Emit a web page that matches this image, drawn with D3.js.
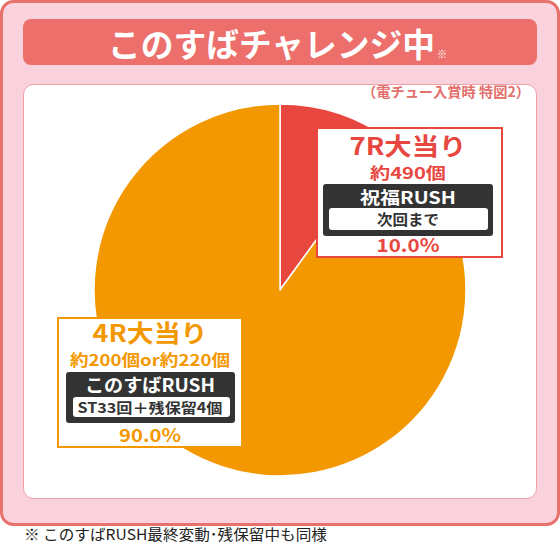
<!DOCTYPE html>
<html><head><meta charset="utf-8">
<script src="https://cdn.jsdelivr.net/npm/d3@7"></script>
<style>html,body{margin:0;padding:0;background:#fff;}svg{display:block;}text{font-family:"Noto Sans CJK JP","Noto Sans",sans-serif;}</style>
</head><body>
<script>
const categories = ["7R大当り", "4R大当り"];
const values = [10.0, 90.0];
const valueLabels = ["10.0%", "90.0%"];
const payouts = ["約490個", "約200個or約220個"];
const rushNames = ["祝福RUSH", "このすばRUSH"];
const rushDetails = ["次回まで", "ST33回＋残保留4個"];
const colors = ["#e8473f", "#f39800"];
const title = "このすばチャレンジ中";
const subtitle = "（電チュー入賞時 特図2）";
const footnote = "※ このすばRUSH最終変動･残保留中も同様";

const W = 560, H = 543;
const svg = d3.select("body").append("svg").attr("width", W).attr("height", H);

function fit(sel, len) {
  return sel.attr("textLength", len).attr("lengthAdjust", "spacingAndGlyphs");
}

// outer frame
svg.append("rect").attr("x", 1.5).attr("y", 1.5).attr("width", W - 3).attr("height", 523)
  .attr("rx", 12).attr("fill", "#f9d2de").attr("stroke", "#e9716c").attr("stroke-width", 3);
// title band
svg.append("rect").attr("x", 23).attr("y", 19).attr("width", 514).attr("height", 46)
  .attr("rx", 8).attr("fill", "#ec6f6b");
fit(svg.append("text").attr("x", 271.5).attr("y", 57).attr("text-anchor", "middle")
  .attr("fill", "#fff").attr("font-size", 33).attr("font-weight", 700).text(title), 327);
svg.append("text").attr("x", 437).attr("y", 58).attr("fill", "#fff").attr("font-size", 10).text("※");

// inner white panel
svg.append("rect").attr("x", 23.5).attr("y", 84.5).attr("width", 513).attr("height", 414)
  .attr("rx", 10).attr("fill", "#fff").attr("stroke", "#f0a0a4").attr("stroke-width", 1);
fit(svg.append("text").attr("x", 530).attr("y", 97).attr("text-anchor", "end")
  .attr("fill", "#e2706c").attr("font-size", 14).attr("font-weight", 700).text(subtitle), 168);

// pie
const cx = 280, cy = 290, r = 186;
const pie = d3.pie().sort(null).value(d => d)(values);
const arc = d3.arc().innerRadius(0).outerRadius(r);
svg.append("g").attr("transform", `translate(${cx},${cy})`)
  .selectAll("path").data(pie).join("path")
  .attr("d", arc).attr("fill", (d, i) => colors[i])
  .attr("stroke", "#fff").attr("stroke-width", 1.5).attr("stroke-linejoin", "round");

// label boxes
const boxes = [
  {x: 317, y: 128, w: 185, h: 129, cx: 408, t1: 155, t2: 179, dy: 184, dh: 52, dx: 323, dw: 170, t3: 204, wy: 208, wh: 22, wx: 329, ww: 159, t4: 225, t5: 252,
   f1: 24, f2: 16, f3: 17, f4: 15, l1: 117, l2: 76, l3: 96, l4: 62, l5: 63},
  {x: 58, y: 318, w: 184, h: 129, cx: 150, t1: 342, t2: 366, dy: 372, dh: 51, dx: 66, dw: 169, t3: 392, wy: 397, wh: 20, wx: 73, ww: 157, t4: 413, t5: 442,
   f1: 24, f2: 16, f3: 18, f4: 14, l1: 115, l2: 160, l3: 130, l4: 145, l5: 62}
];
boxes.forEach((b, i) => {
  const g = svg.append("g");
  g.append("rect").attr("x", b.x).attr("y", b.y).attr("width", b.w).attr("height", b.h)
    .attr("fill", "#fff").attr("stroke", colors[i]).attr("stroke-width", 2);
  fit(g.append("text").attr("x", b.cx).attr("y", b.t1).attr("text-anchor", "middle")
    .attr("fill", colors[i]).attr("font-size", b.f1).attr("font-weight", 700).text(categories[i]), b.l1);
  fit(g.append("text").attr("x", b.cx).attr("y", b.t2).attr("text-anchor", "middle")
    .attr("fill", colors[i]).attr("font-size", b.f2).attr("font-weight", 700).text(payouts[i]), b.l2);
  g.append("rect").attr("x", b.dx).attr("y", b.dy).attr("width", b.dw).attr("height", b.dh)
    .attr("rx", 3).attr("fill", "#333333");
  fit(g.append("text").attr("x", b.cx).attr("y", b.t3).attr("text-anchor", "middle")
    .attr("fill", "#fff").attr("font-size", b.f3).attr("font-weight", 700).text(rushNames[i]), b.l3);
  g.append("rect").attr("x", b.wx).attr("y", b.wy).attr("width", b.ww).attr("height", b.wh)
    .attr("rx", 3).attr("fill", "#fff");
  fit(g.append("text").attr("x", b.cx).attr("y", b.t4).attr("text-anchor", "middle")
    .attr("fill", "#333").attr("font-size", b.f4).attr("font-weight", 700).text(rushDetails[i]), b.l4);
  fit(g.append("text").attr("x", b.cx).attr("y", b.t5).attr("text-anchor", "middle")
    .attr("fill", colors[i]).attr("font-size", 18).attr("font-weight", 700).text(valueLabels[i]), b.l5);
});

fit(svg.append("text").attr("x", 24).attr("y", 540).attr("fill", "#222").attr("font-size", 15).text(footnote), 303);
</script>
</body></html>
